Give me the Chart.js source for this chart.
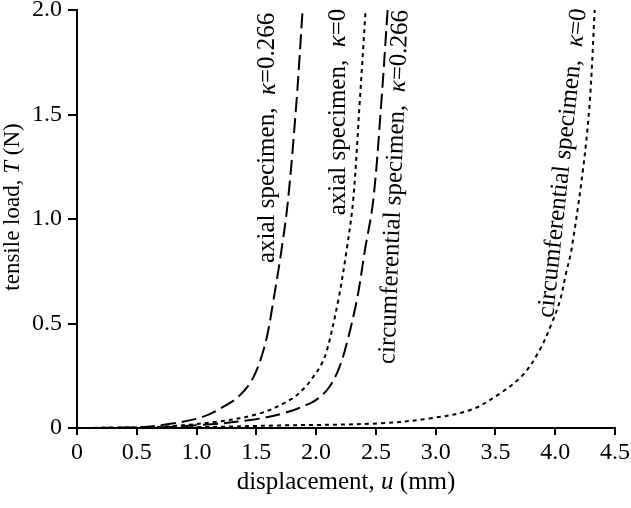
<!DOCTYPE html>
<html><head><meta charset="utf-8">
<script src="https://cdn.jsdelivr.net/npm/chart.js@4/dist/chart.umd.min.js"></script>
<style>html,body{margin:0;padding:0;background:#fff;}</style>
</head><body>
<canvas id="c" width="631" height="508"></canvas>
<script>
// Data (displacement u in mm, tensile load T in N)
const axialK266X = [0, 0.5, 0.78, 1.05, 1.28, 1.36, 1.43, 1.49, 1.54, 1.59, 1.64, 1.71, 1.765, 1.837, 1.887];
const axialK266Y = [0, 0.003, 0.02, 0.053, 0.12, 0.155, 0.2, 0.26, 0.335, 0.44, 0.6, 0.85, 1.09, 1.57, 2.0];
const axialK0X = [0, 0.6, 1.17, 1.53, 1.78, 1.9, 1.976, 2.04, 2.09, 2.185, 2.255, 2.31, 2.366, 2.414];
const axialK0Y = [0, 0.003, 0.03, 0.07, 0.134, 0.19, 0.245, 0.3, 0.37, 0.61, 0.85, 1.09, 1.57, 2.0];
const circK266X = [0, 0.6, 1.03, 1.45, 1.725, 1.95, 2.04, 2.115, 2.18, 2.24, 2.34, 2.408, 2.478, 2.547, 2.598];
const circK266Y = [0, 0.002, 0.014, 0.038, 0.07, 0.118, 0.152, 0.2, 0.27, 0.37, 0.61, 0.85, 1.09, 1.57, 2.0];
const circK0X = [0, 1.0, 1.67, 2.53, 2.95, 3.29, 3.54, 3.73, 3.87, 3.97, 4.04, 4.09, 4.135, 4.235, 4.29, 4.33];
const circK0Y = [0, 0.004, 0.012, 0.022, 0.046, 0.086, 0.166, 0.254, 0.373, 0.50, 0.61, 0.74, 0.85, 1.25, 1.57, 2.0];
const xTickValues = [0, 0.5, 1.0, 1.5, 2.0, 2.5, 3.0, 3.5, 4.0, 4.5];
const yTickValues = [0, 0.5, 1.0, 1.5, 2.0];
const seriesNames = ['axial specimen, κ=0.266', 'axial specimen, κ=0', 'circumferential specimen, κ=0.266', 'circumferential specimen, κ=0'];

const FONT = '"Liberation Serif", "Times New Roman", serif';
const toPts = (xs, ys) => xs.map((x, i) => ({x, y: ys[i]}));
const LONG = [15, 6], SHORT = [4, 4];

function ds(label, xs, ys, dash) {
  return {label, data: toPts(xs, ys), showLine: true, pointRadius: 0, borderColor: '#000',
    borderWidth: 2, borderDash: dash, tension: 0.35, fill: false};
}

function drawRich(ctx, segs, size, cx, cy, angleDeg) {
  ctx.save();
  ctx.translate(cx, cy);
  ctx.rotate(angleDeg * Math.PI / 180);
  let total = 0;
  const widths = segs.map(s => {
    ctx.font = (s.i ? 'italic ' : '') + size + 'px ' + FONT;
    const w = ctx.measureText(s.t).width; total += w; return w;
  });
  let x = -total / 2;
  ctx.textBaseline = 'middle'; ctx.textAlign = 'left'; ctx.fillStyle = '#000';
  segs.forEach((s, k) => {
    ctx.font = (s.i ? 'italic ' : '') + size + 'px ' + FONT;
    ctx.fillText(s.t, x, 0); x += widths[k];
  });
  ctx.restore();
}

function splitKappa(name) {
  const k = name.indexOf('κ');
  return [{t: name.slice(0, k).replace(', ', ',  '), i: false}, {t: 'κ', i: true}, {t: name.slice(k + 1), i: false}];
}

const labelPlugin = {
  id: 'labels',
  afterDatasetsDraw(chart) {
    const ctx = chart.ctx, xs = chart.scales.x, ys = chart.scales.y;
    const place = [[1.597, 1.388, -90], [2.19, 1.512, -90], [2.655, 1.153, -87.8], [4.064, 1.268, -83.9]];
    seriesNames.forEach((n, i) => {
      const p = place[i];
      drawRich(ctx, splitKappa(n), 25, xs.getPixelForValue(p[0]), ys.getPixelForValue(p[1]), p[2]);
    });
    // axis titles
    drawRich(ctx, [{t: 'displacement, ', i: false}, {t: 'u', i: true}, {t: ' (mm)', i: false}], 25,
      346, 482, 0);
    drawRich(ctx, [{t: 'tensile load, ', i: false}, {t: 'T', i: true}, {t: ' (N)', i: false}], 23,
      13, 207, -90);
  }
};

const fmt = v => (v === 0 ? '0' : Number(v).toFixed(1));

new Chart(document.getElementById('c'), {
  type: 'scatter',
  data: {datasets: [
    ds(seriesNames[0], axialK266X, axialK266Y, LONG),
    ds(seriesNames[1], axialK0X, axialK0Y, SHORT),
    ds(seriesNames[2], circK266X, circK266Y, LONG),
    ds(seriesNames[3], circK0X, circK0Y, SHORT)
  ]},
  options: {
    responsive: false, animation: false, devicePixelRatio: 1,
    layout: {padding: {left: 0, right: 16, top: 10, bottom: 0}},
    plugins: {legend: {display: false}, tooltip: {enabled: false}},
    scales: {
      x: {type: 'linear', min: 0, max: 4.5,
        afterBuildTicks: s => { s.ticks = xTickValues.map(v => ({value: v})); },
        afterFit: s => { s.height = 80; s.paddingLeft = 0; s.paddingRight = 0; },
        ticks: {callback: fmt, color: '#000', font: {family: FONT, size: 24}, padding: 3, maxRotation: 0, autoSkip: false},
        grid: {drawOnChartArea: false, drawTicks: true, tickLength: 7, color: '#000', lineWidth: 2},
        border: {color: '#000', width: 2}
      },
      y: {type: 'linear', min: 0, max: 2.0,
        afterBuildTicks: s => { s.ticks = yTickValues.map(v => ({value: v})); },
        afterFit: s => { s.width = 77; s.paddingTop = 0; s.paddingBottom = 0; },
        ticks: {callback: fmt, color: '#000', font: {family: FONT, size: 24}, padding: 6, autoSkip: false},
        grid: {drawOnChartArea: false, drawTicks: true, tickLength: 9, color: '#000', lineWidth: 2},
        border: {color: '#000', width: 2}
      }
    }
  },
  plugins: [labelPlugin]
});
</script>
</body></html>
